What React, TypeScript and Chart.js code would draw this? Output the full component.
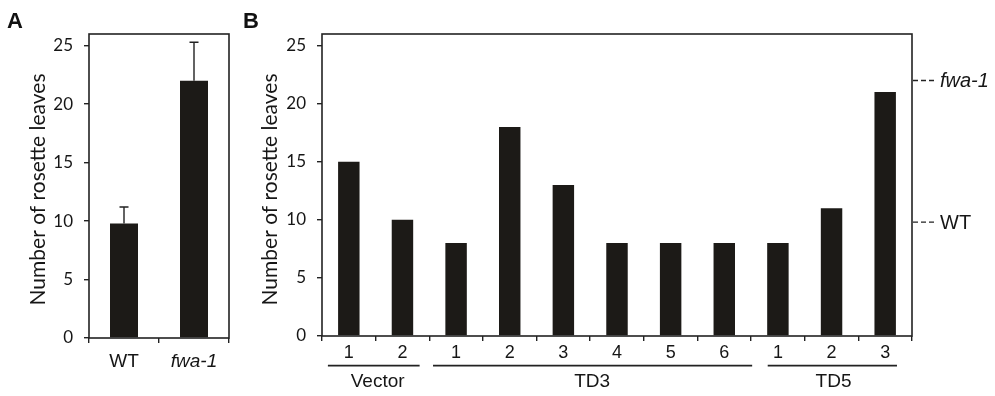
import React, { useEffect, useRef } from 'react';
import { Chart, registerables } from 'chart.js';

Chart.register(...registerables);

// ---------- data ----------
const panelACategories = ['WT', 'fwa-1'];
const panelAMeans = [9.8, 22.0];
const panelAErrors = [1.4, 3.3];

const panelBLines = ['1', '2', '1', '2', '3', '4', '5', '6', '1', '2', '3'];
const panelBValues = [15, 10, 8, 18, 13, 8, 8, 8, 8, 11, 21];
const panelBGroupNames = ['Vector', 'TD3', 'TD5'];
const panelBGroupFirst = [0, 2, 8];
const panelBGroupLast = [1, 7, 10];

const yTickValues = [0, 5, 10, 15, 20, 25];
const yMin = 0;
const yMax = 26;

const referenceLabels = ['fwa-1', 'WT'];
const referenceValues = [22.0, 9.8];

const yTitle = 'Number of rosette leaves';

// ---------- style ----------
const BAR = '#1c1a17';
const AXIS = '#222222';
const TEXT = '#161616';
const ARIAL = '"Liberation Sans", Arial, sans-serif';
const CALIB = 'Lato, "Open Sans", sans-serif';
// extents of group underline, in category units relative to first/last centre
const groupLineExtents = [
  [-0.39, 0.32],
  [-0.43, 0.52],
  [-0.19, 0.22],
];

function yScaleOptions(width: number) {
  return {
    min: yMin,
    max: yMax,
    afterBuildTicks: (scale: any) => {
      scale.ticks = yTickValues.map((v) => ({ value: v }));
    },
    afterFit: (scale: any) => {
      scale.width = width;
    },
    border: { display: false },
    grid: {
      drawOnChartArea: false,
      drawTicks: true,
      tickLength: 5,
      color: AXIS,
      lineWidth: 1.4,
    },
    ticks: {
      padding: 11,
      color: TEXT,
      font: { family: CALIB, size: 17 },
    },
  };
}

function framePlugin(letter: string, titleX: number) {
  return {
    id: 'frame-' + letter,
    afterDraw(chart: any) {
      const { ctx, chartArea } = chart;
      ctx.save();
      ctx.strokeStyle = AXIS;
      ctx.lineWidth = 1.6;
      ctx.strokeRect(
        chartArea.left,
        chartArea.top,
        chartArea.right - chartArea.left,
        chartArea.bottom - chartArea.top
      );
      // panel letter
      ctx.fillStyle = '#111';
      ctx.font = `bold 22px ${ARIAL}`;
      ctx.textAlign = 'left';
      ctx.textBaseline = 'alphabetic';
      ctx.fillText(letter, letter === 'A' ? 7 : 3, 28);
      // y title
      ctx.translate(titleX, 189.5);
      ctx.rotate(-Math.PI / 2);
      ctx.textAlign = 'center';
      ctx.textBaseline = 'middle';
      ctx.fillStyle = TEXT;
      ctx.font = `21px ${CALIB}`;
      ctx.fillText(yTitle, 0, 0);
      ctx.restore();
    },
  };
}

const errorBarPlugin = {
  id: 'errorBars',
  afterDatasetsDraw(chart: any) {
    const { ctx } = chart;
    const ys = chart.scales.y;
    const meta = chart.getDatasetMeta(0);
    ctx.save();
    ctx.strokeStyle = AXIS;
    ctx.lineWidth = 1.4;
    meta.data.forEach((bar: any, i: number) => {
      const top = ys.getPixelForValue(panelAMeans[i] + panelAErrors[i]);
      ctx.beginPath();
      ctx.moveTo(bar.x, bar.y);
      ctx.lineTo(bar.x, top);
      ctx.moveTo(bar.x - 4.5, top);
      ctx.lineTo(bar.x + 4.5, top);
      ctx.stroke();
    });
    ctx.restore();
  },
};

const groupsPlugin = {
  id: 'groups',
  afterDraw(chart: any) {
    const { ctx, chartArea } = chart;
    const xs = chart.scales.x;
    const ys = chart.scales.y;
    const step = xs.getPixelForValue(1) - xs.getPixelForValue(0);
    ctx.save();
    ctx.strokeStyle = AXIS;
    ctx.fillStyle = TEXT;
    ctx.lineWidth = 1.7;
    ctx.font = `19px ${ARIAL}`;
    ctx.textAlign = 'center';
    ctx.textBaseline = 'middle';
    panelBGroupNames.forEach((name, g) => {
      const a = xs.getPixelForValue(panelBGroupFirst[g]);
      const b = xs.getPixelForValue(panelBGroupLast[g]);
      ctx.beginPath();
      ctx.moveTo(a + groupLineExtents[g][0] * step, 365.7);
      ctx.lineTo(b + groupLineExtents[g][1] * step, 365.7);
      ctx.stroke();
      ctx.fillText(name, (a + b) / 2 + 2, 382);
    });
    // reference markers on the right
    ctx.textAlign = 'left';
    referenceLabels.forEach((label, i) => {
      const y = ys.getPixelForValue(referenceValues[i]);
      ctx.setLineDash([5, 3]);
      ctx.lineWidth = 1.4;
      ctx.beginPath();
      ctx.moveTo(chartArea.right + 1, y);
      ctx.lineTo(chartArea.right + 25, y);
      ctx.stroke();
      ctx.setLineDash([]);
      ctx.font = `${label.startsWith('fwa') ? 'italic ' : ''}20px ${ARIAL}`;
      ctx.fillText(label, chartArea.right + 28, y + 1);
    });
    ctx.restore();
  },
};

function PanelA() {
  const ref = useRef<HTMLCanvasElement>(null);
  useEffect(() => {
    const chart = new Chart(ref.current!, {
      type: 'bar',
      data: {
        labels: panelACategories,
        datasets: [
          {
            data: panelAMeans,
            backgroundColor: BAR,
            borderWidth: 0,
            barPercentage: 0.4,
            categoryPercentage: 1,
          },
        ],
      },
      options: {
        responsive: false,
        animation: false,
        layout: { padding: { left: 0, top: 34, right: 11, bottom: 0 } },
        plugins: { legend: { display: false }, tooltip: { enabled: false } },
        scales: {
          x: {
            afterFit: (scale: any) => {
              scale.height = 58;
            },
            border: { display: false },
            grid: {
              offset: true,
              drawOnChartArea: false,
              drawTicks: true,
              tickLength: 5,
              color: AXIS,
              lineWidth: 1.4,
            },
            ticks: {
              padding: 7,
              color: TEXT,
              font: (c: any) => ({
                family: ARIAL,
                size: 19,
                style: c.index === 1 ? 'italic' : 'normal',
              }),
            },
          },
          y: yScaleOptions(89) as any,
        },
      },
      plugins: [errorBarPlugin, framePlugin('A', 38)],
    });
    return () => chart.destroy();
  }, []);
  return (
    <canvas
      ref={ref}
      width={240}
      height={396}
      style={{ position: 'absolute', left: 0, top: 0, width: 240, height: 396 }}
    />
  );
}

function PanelB() {
  const ref = useRef<HTMLCanvasElement>(null);
  useEffect(() => {
    const chart = new Chart(ref.current!, {
      type: 'bar',
      data: {
        labels: panelBLines,
        datasets: [
          {
            data: panelBValues,
            backgroundColor: BAR,
            borderWidth: 0,
            barPercentage: 0.4,
            categoryPercentage: 1,
          },
        ],
      },
      options: {
        responsive: false,
        animation: false,
        layout: { padding: { left: 0, top: 34, right: 83, bottom: 0 } },
        plugins: { legend: { display: false }, tooltip: { enabled: false } },
        scales: {
          x: {
            afterFit: (scale: any) => {
              scale.height = 60;
            },
            border: { display: false },
            grid: {
              offset: true,
              drawOnChartArea: false,
              drawTicks: true,
              tickLength: 5,
              color: AXIS,
              lineWidth: 1.4,
            },
            ticks: {
              padding: 1,
              color: TEXT,
              font: { family: ARIAL, size: 18 },
            },
          },
          y: yScaleOptions(82) as any,
        },
      },
      plugins: [groupsPlugin, framePlugin('B', 30)],
    });
    return () => chart.destroy();
  }, []);
  return (
    <canvas
      ref={ref}
      width={755}
      height={396}
      style={{ position: 'absolute', left: 240, top: 0, width: 755, height: 396 }}
    />
  );
}

export default function App() {
  return (
    <div
      style={{
        position: 'absolute',
        left: 0,
        top: 0,
        width: 995,
        height: 396,
        background: '#fff',
        overflow: 'hidden',
      }}
    >
      <PanelA />
      <PanelB />
    </div>
  );
}
